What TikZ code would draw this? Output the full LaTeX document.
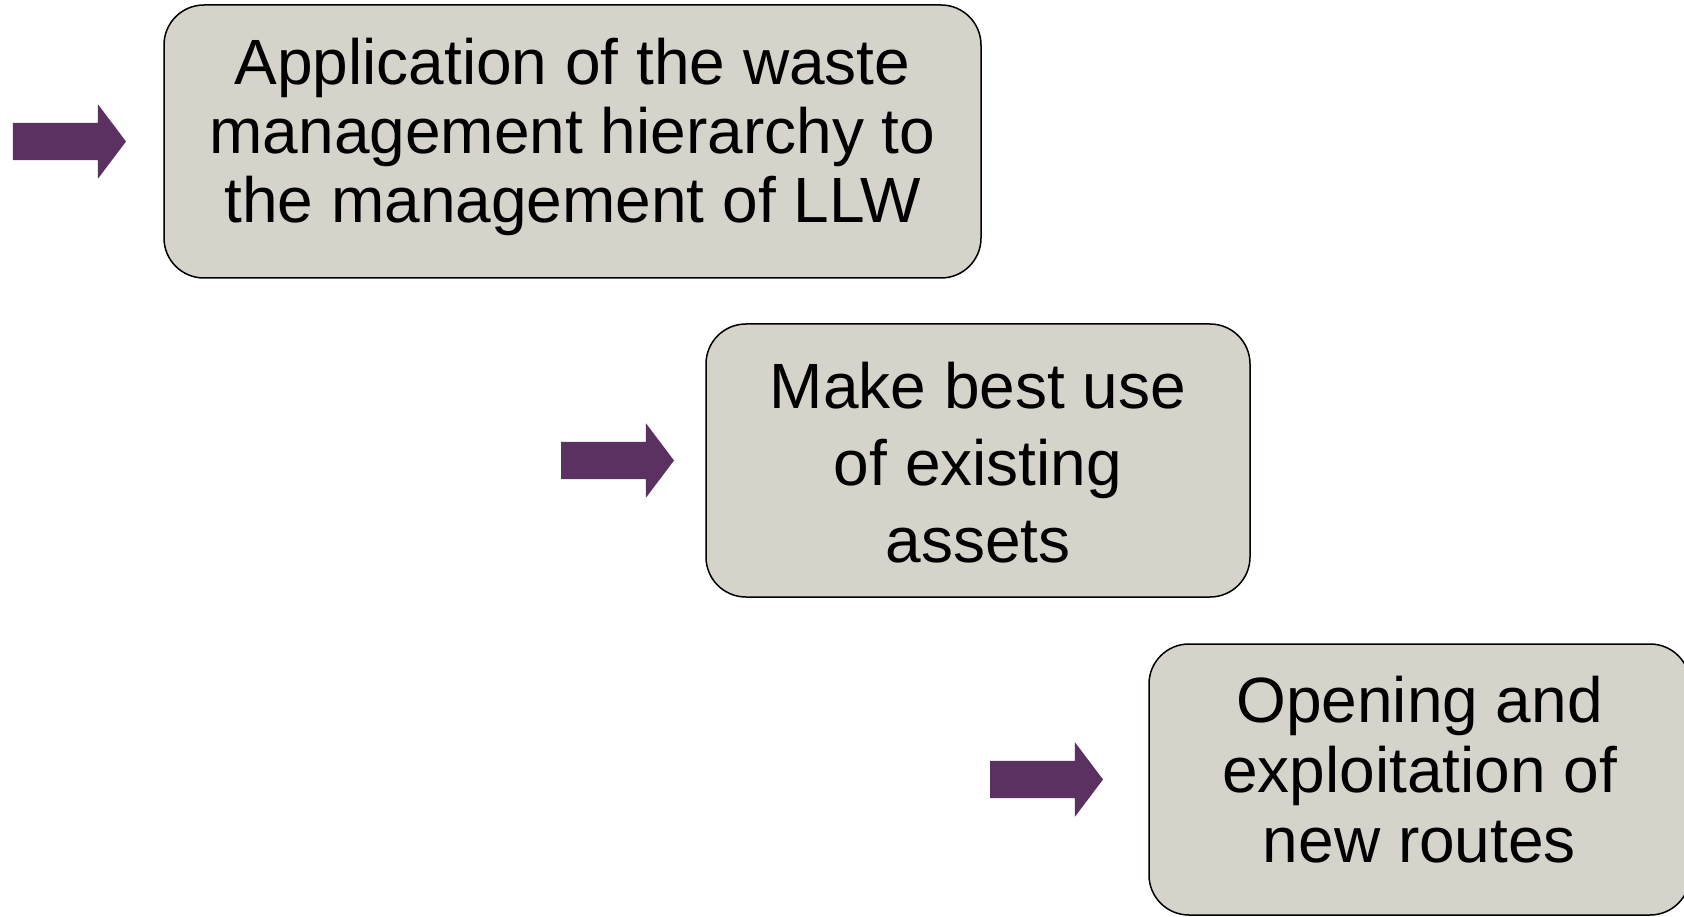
\documentclass[tikz,border=0pt]{standalone}
\usepackage{fontspec}
\setmainfont{Liberation Sans}
\usetikzlibrary{shapes.arrows}
\definecolor{boxgrey}{RGB}{214,211,203}
\definecolor{arrowpurple}{RGB}{90,49,97}

\begin{document}
\begin{tikzpicture}[x=1pt,y=-1pt]
	\tikzstyle{stage}=[draw=black,line width=1.5pt,fill=boxgrey,rounded corners=40pt,inner sep=0pt]
	\tikzstyle{stage text}=[align=center,inner sep=0pt,anchor=base]
	\tikzstyle{pointer}=[single arrow,fill=arrowpurple,inner sep=0pt,text height=37pt,text depth=0pt,minimum height=113pt,minimum width=74pt,single arrow head extend=18.5pt,single arrow tip angle=106,anchor=tip]
	\useasboundingbox (0,0) rectangle (1684,917);

	\node[stage,minimum width=817pt,minimum height=273pt] (s1) at (572.5,141.5) {};
	\node[stage,minimum width=544pt,minimum height=273pt] (s2) at (978,460.5) {};
	\node[stage,minimum width=541pt,minimum height=271pt] (s3) at (1419.5,779.5) {};

	% base anchor sits on the last line
	\node[stage text,font=\fontsize{64}{69}\selectfont] (t1) at ([yshift=-218pt]s1.north)
		{Application of the waste\\management hierarchy to\\the management of LLW};
	\node[stage text,font=\fontsize{64}{77}\selectfont] (t2) at ([yshift=-239pt]s2.north)
		{Make best use\\of existing\\assets};
	\node[stage text,font=\fontsize{64}{70}\selectfont] (t3) at ([yshift=-219pt]s3.north)
		{Opening and\\exploitation of\\new routes};

	\node[pointer] (p1) at ([xshift=-37pt]s1.west) {};
	\node[pointer] (p2) at ([xshift=-31pt]s2.west) {};
	\node[pointer] (p3) at ([xshift=-45pt]s3.west) {};
\end{tikzpicture}
\end{document}
